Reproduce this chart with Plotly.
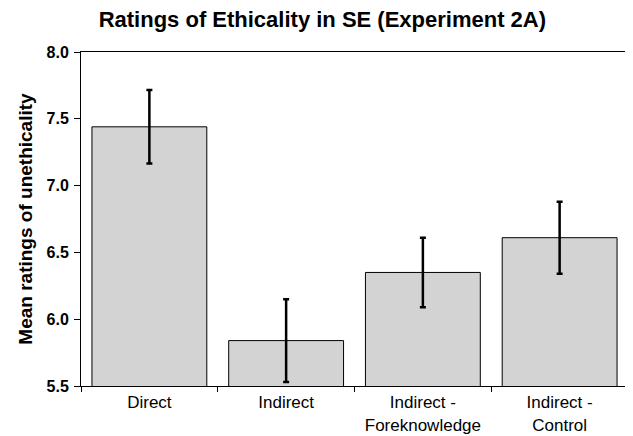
import plotly.graph_objects as go

categories = ["Direct", "Indirect", "Indirect -<br>Foreknowledge", "Indirect -<br>Control"]
means = [7.44, 5.84, 6.35, 6.61]
errors = [0.275, 0.31, 0.26, 0.27]
ytick_vals = [5.5, 6.0, 6.5, 7.0, 7.5, 8.0]
ytick_text = ["5.5", "6.0", "6.5", "7.0", "7.5", "8.0"]
y_title = "Mean ratings of unethicality"

fig = go.Figure(go.Bar(
    x=categories, y=means,
    marker=dict(color="#d3d3d3", line=dict(color="black", width=1)),
    error_y=dict(type="data", array=errors, color="black", thickness=2.5, width=3),
    width=0.84,
))

# page body has an 8px default margin, so the figure is sized to fit the 633x436 window
fig.update_layout(
    width=625, height=428,
    margin=dict(l=73, r=5, t=44, b=50),
    paper_bgcolor="white", plot_bgcolor="white",
    showlegend=False,
    font=dict(family="Liberation Sans, Arial", color="black"),
    title=dict(text="<b>Ratings of Ethicality in SE (Experiment 2A)</b>",
               x=0.503, xanchor="center", y=0.974, yanchor="middle",
               font=dict(size=22, family="Liberation Sans, Arial", color="black")),
    annotations=[dict(
        text="<b>%s</b>" % y_title, textangle=-90,
        xref="paper", yref="paper", x=-0.103, y=0.5,
        xanchor="center", yanchor="middle", showarrow=False,
        font=dict(size=19, family="Liberation Sans, Arial", color="black"),
    )],
)
fig.update_xaxes(
    automargin=False,
    showline=True, linecolor="black", linewidth=1, mirror=True,
    ticks="outside", tickson="boundaries", ticklen=5, tickcolor="black",
    ticklabelstandoff=1,
    tickfont=dict(size=17),
)
fig.update_yaxes(
    automargin=False,
    range=[5.5, 8.0], tickvals=ytick_vals, ticktext=["<b>%s</b>" % t for t in ytick_text],
    showline=True, linecolor="black", linewidth=1, mirror=True,
    ticks="outside", ticklen=6, tickcolor="black", showgrid=False, zeroline=False,
    ticklabelstandoff=2,
    tickfont=dict(size=16, family="Liberation Sans, Arial"),
)

fig.write_html("out.html")
